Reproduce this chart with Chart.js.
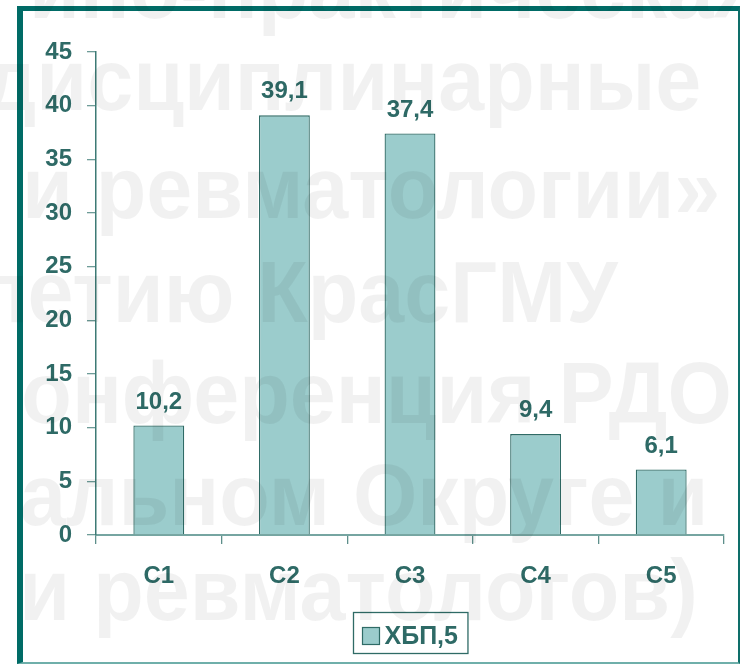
<!DOCTYPE html>
<html>
<head>
<meta charset="utf-8">
<script src="https://cdn.jsdelivr.net/npm/chart.js@4.4.1/dist/chart.umd.min.js"></script>
<style>
html, body { margin: 0; padding: 0; background: #fff; }
#wrap { position: relative; width: 742px; height: 665px; overflow: hidden; }
#frame {
    position: absolute; left: 17px; top: 6px; width: 723px; height: 658px;
    box-sizing: border-box;
    border-top: 5px solid #006B66; border-left: 6px solid #006B66;
    border-right: 2px solid #0E6E69; border-bottom: 2px solid #6FAFAA;
}
#chart { position: absolute; left: 0; top: 0; }
.wm {
    position: absolute; white-space: nowrap;
    font: bold 88px "Liberation Sans", Arial, sans-serif; line-height: 88px;
    color: rgba(0, 0, 0, 0.055); pointer-events: none; filter: blur(0.7px);
}
.wl { transform-origin: left center; transform: scaleX(0.94); }
.wr { transform-origin: right center; transform: scaleX(0.94); }
</style>
</head>
<body>
<div id="wrap">
    <div id="frame"></div>
    <canvas id="chart" width="742" height="665"></canvas>
    <!-- faded slide text lying over the chart -->
    <div class="wm wl" style="left:29px; top:-56px;">ино-практическая</div>
    <div class="wm wr" style="right:41px; top:36px;">дисциплинарные</div>
    <div class="wm wl" style="left:22px; top:144px;">и ревматологии»</div>
    <div class="wm wr" style="right:124px; top:248px;">летию КрасГМУ</div>
    <div class="wm wr" style="right:10px; top:349px;">онференция РДО</div>
    <div class="wm wr" style="right:34px; top:451px;">альном Округе и</div>
    <div class="wm wr" style="right:44px; top:546px;">и ревматологов)</div>
</div>
<script>
// chart data
const categories = ["C1", "C2", "C3", "C4", "C5"];
const seriesName = "ХБП,5";
const seriesValues = [10.2, 39.1, 37.4, 9.4, 6.1];
const yMin = 0;
const yMax = 45;
const yStep = 5;

const textColor = "#2E6A66";
const barFill = "#9BCCCC";
const barLine = "#2F6B66";
const fontFamily = '"Liberation Sans", Arial, sans-serif';

// value above each bar, with comma as decimal mark
const valueLabels = {
    id: "valueLabels",
    afterDatasetsDraw(chart) {
        const ctx = chart.ctx;
        const meta = chart.getDatasetMeta(0);
        const data = chart.data.datasets[0].data;
        ctx.save();
        ctx.font = "bold 24px " + fontFamily;
        ctx.fillStyle = textColor;
        ctx.textAlign = "center";
        ctx.textBaseline = "alphabetic";
        meta.data.forEach((bar, i) => {
            ctx.fillText(String(data[i]).replace(".", ","), bar.x, bar.y - 17);
        });
        ctx.restore();
    }
};

// boxed legend under the plot
const boxedLegend = {
    id: "boxedLegend",
    afterDraw(chart) {
        const ctx = chart.ctx;
        const ds = chart.data.datasets[0];
        const area = chart.chartArea;
        ctx.save();
        ctx.font = "bold 25px " + fontFamily;
        const textW = ctx.measureText(ds.label).width;
        const boxW = 9 + 17 + 5 + textW + 10;
        const boxH = 41;
        const cx = (area.left + area.right) / 2;
        const bx = Math.round(cx - boxW / 2) + 0.5;
        const by = area.bottom + 77.5;
        ctx.strokeStyle = barLine;
        ctx.lineWidth = 1.3;
        ctx.strokeRect(bx, by, boxW, boxH);
        ctx.fillStyle = ds.backgroundColor;
        ctx.fillRect(bx + 9, by + 15, 17, 17);
        ctx.strokeStyle = ds.borderColor;
        ctx.lineWidth = 1.2;
        ctx.strokeRect(bx + 9, by + 15, 17, 17);
        ctx.fillStyle = textColor;
        ctx.textAlign = "left";
        ctx.textBaseline = "alphabetic";
        ctx.fillText(ds.label, bx + 31, by + 31);
        ctx.restore();
    }
};

new Chart(document.getElementById("chart"), {
    type: "bar",
    data: {
        labels: categories,
        datasets: [{
            label: seriesName,
            data: seriesValues,
            backgroundColor: barFill,
            borderColor: barLine,
            borderWidth: 1.3,
            barPercentage: 0.405,
            categoryPercentage: 1
        }]
    },
    options: {
        responsive: false,
        animation: false,
        layout: {
            padding: { left: 24, right: 18, top: 52, bottom: 70 }
        },
        plugins: {
            legend: { display: false },
            tooltip: { enabled: false }
        },
        scales: {
            x: {
                afterFit: scale => { scale.height = 60; },
                grid: {
                    offset: true,
                    drawOnChartArea: false,
                    tickLength: 9,
                    color: "#5E8F8B",
                    lineWidth: 1.3
                },
                border: { display: true, color: "#76A5A1", width: 2 },
                ticks: {
                    padding: 18,
                    color: textColor,
                    font: { family: fontFamily, size: 24, weight: "bold" }
                }
            },
            y: {
                min: yMin,
                max: yMax,
                afterFit: scale => { scale.width = 72; },
                grid: {
                    drawOnChartArea: false,
                    tickLength: 9,
                    color: "#6E9C98",
                    lineWidth: 1.3
                },
                border: { display: true, color: "#3D7A75", width: 1.5 },
                ticks: {
                    stepSize: yStep,
                    padding: 15,
                    color: textColor,
                    font: { family: fontFamily, size: 24, weight: "bold" }
                }
            }
        }
    },
    plugins: [valueLabels, boxedLegend]
});
</script>
</body>
</html>
